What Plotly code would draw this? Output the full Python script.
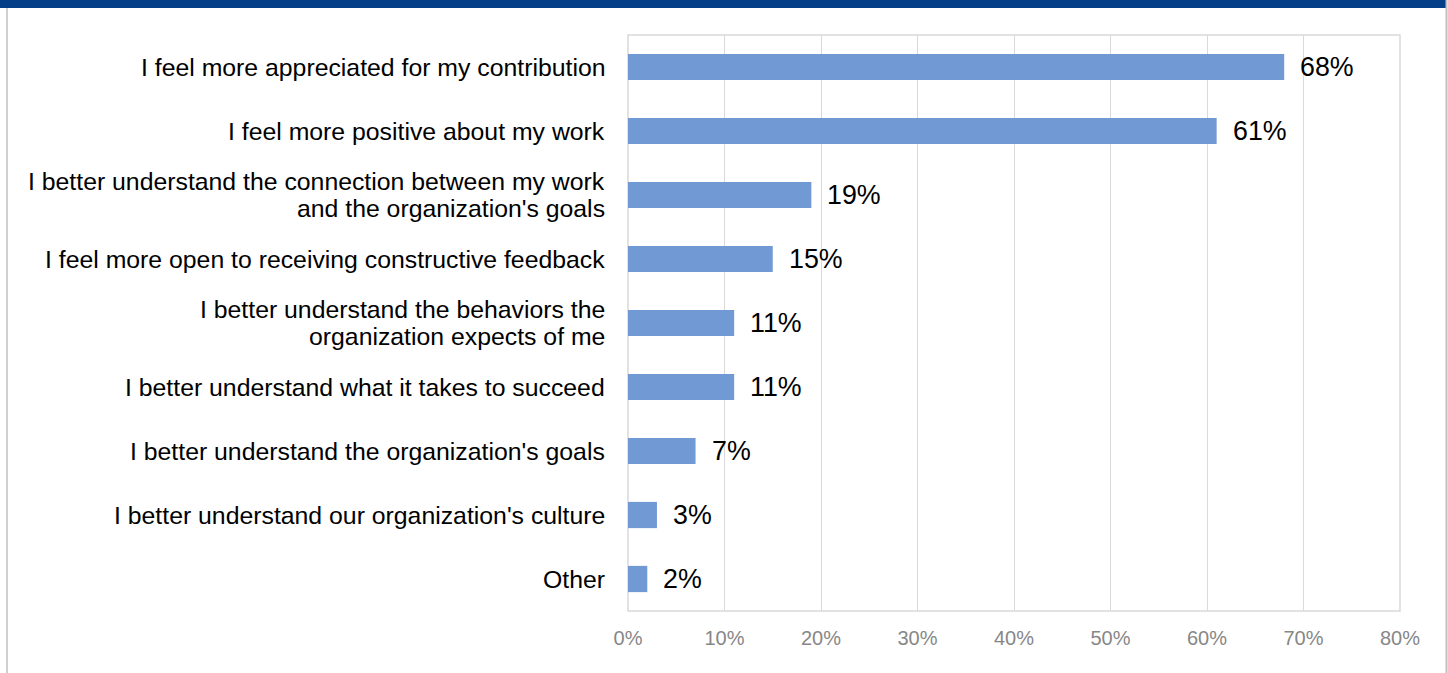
import plotly.graph_objects as go

categories = [
    "I feel more appreciated for my contribution",
    "I feel more positive about my work",
    "I better understand the connection between my work<br>and the organization's goals",
    "I feel more open to receiving constructive feedback",
    "I better understand the behaviors the<br>organization expects of me",
    "I better understand what it takes to succeed",
    "I better understand the organization's goals",
    "I better understand our organization's culture",
    "Other",
]
values = [68, 61, 19, 15, 11, 11, 7, 3, 2]
x_ticks = [0, 10, 20, 30, 40, 50, 60, 70, 80]

W, H = 1448, 673
ML, MR, MT, MB = 628, 48, 35, 62
PW, PH = W - ML - MR, H - MT - MB
FONT = "Liberation Sans, Arial"


def px_x(p):
    return (p - ML) / PW


def px_y(p):
    return 1 - (p - MT) / PH


fig = go.Figure()
fig.add_trace(go.Bar(
    x=values,
    y=categories,
    orientation="h",
    marker=dict(color="#7199D3", line=dict(width=0)),
    hoverinfo="skip",
))

# value labels just past the end of each bar
for c, v in zip(categories, values):
    fig.add_annotation(
        x=v, y=c, xref="x", yref="y",
        text=f"{v}%", showarrow=False,
        xanchor="left", xshift=14,
        font=dict(family=FONT, size=26.8, color="#000000"),
    )

# category labels, one annotation per line for tighter line spacing
LINE_GAP = 27
for c in categories:
    lines = c.split("<br>")
    n = len(lines)
    for i, line in enumerate(lines):
        fig.add_annotation(
            x=0, y=c, xref="paper", yref="y",
            text=line, showarrow=False,
            xanchor="right", yanchor="middle",
            xshift=-21, yshift=((n - 1) / 2 - i) * LINE_GAP,
            font=dict(family=FONT, size=24.8, color="#000000"),
        )

shapes = [
    # header band
    dict(type="rect", xref="paper", yref="paper",
         x0=px_x(0), x1=px_x(1446), y0=px_y(8), y1=px_y(0),
         fillcolor="#053F88", line=dict(width=0), layer="above"),
    # outer frame sides
    dict(type="line", xref="paper", yref="paper",
         x0=px_x(7), x1=px_x(7), y0=px_y(H), y1=px_y(8),
         line=dict(color="#C0C0C0", width=1.5)),
    dict(type="line", xref="paper", yref="paper",
         x0=px_x(1446.5), x1=px_x(1446.5), y0=px_y(H), y1=px_y(0),
         line=dict(color="#C0C0C0", width=2), layer="above"),
    # plot area border
    dict(type="rect", xref="paper", yref="paper",
         x0=0, x1=1, y0=0, y1=1,
         line=dict(color="#D9D9D9", width=1.5), layer="below"),
]

fig.update_layout(
    width=W, height=H,
    margin=dict(l=ML, r=MR, t=MT, b=MB, pad=0),
    paper_bgcolor="#FFFFFF",
    plot_bgcolor="#FFFFFF",
    showlegend=False,
    bargap=0.59,
    shapes=shapes,
    font=dict(family=FONT, color="#000000"),
    xaxis=dict(
        range=[0, 80],
        tickvals=x_ticks,
        ticktext=[f"{t}%" for t in x_ticks],
        showgrid=True, gridcolor="#D9D9D9", gridwidth=1,
        zeroline=False, showline=False,
        tickfont=dict(size=20, color="#878787"),
        ticks="", ticklabelstandoff=13,
        fixedrange=True,
    ),
    yaxis=dict(
        autorange="reversed",
        showgrid=False, zeroline=False, showline=False,
        showticklabels=False, ticks="",
        fixedrange=True,
    ),
)

fig.write_html("out.html")
